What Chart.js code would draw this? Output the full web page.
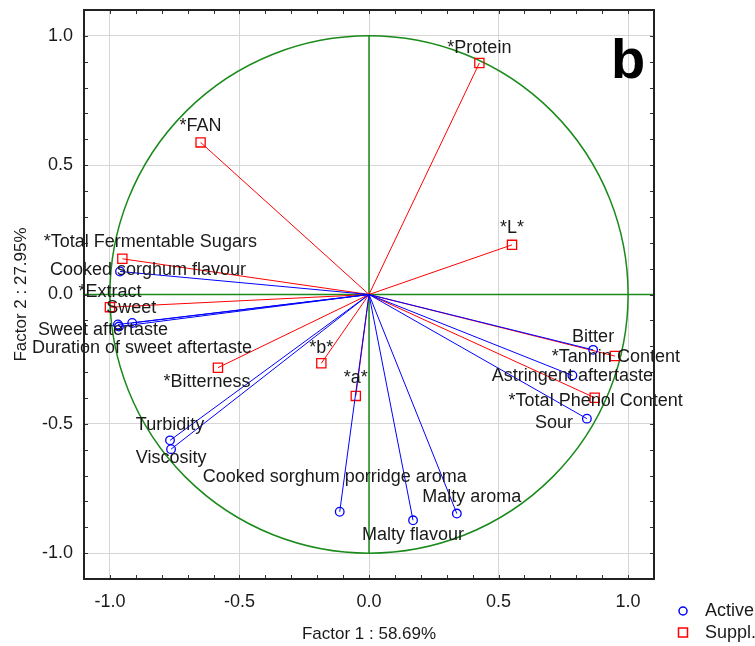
<!DOCTYPE html>
<html>
<head>
<meta charset="utf-8">
<script src="https://cdn.jsdelivr.net/npm/chart.js@4.4.0/dist/chart.umd.min.js"></script>
<style>
  html, body { margin: 0; padding: 0; background: #fff; }
</style>
</head>
<body>
<canvas id="myChart" width="755" height="646"></canvas>
<script>
// active variables (blue circles)
var activeNames = ['Cooked sorghum flavour', 'Sweet', 'Sweet aftertaste', 'Duration of sweet aftertaste',
    'Turbidity', 'Viscosity', 'Cooked sorghum porridge aroma', 'Malty flavour', 'Malty aroma',
    'Bitter', 'Astringent aftertaste', 'Sour'];
var activeX = [-0.961, -0.914, -0.969, -0.965, -0.768, -0.764, -0.113, 0.170, 0.339, 0.865, 0.785, 0.841];
var activeY = [0.089, -0.110, -0.116, -0.124, -0.564, -0.598, -0.840, -0.873, -0.847, -0.214, -0.313, -0.480];

// supplementary variables (red squares)
var supplNames = ['*FAN', '*Protein', '*L*', '*Total Fermentable Sugars', '*Extract', '*Bitterness',
    '*b*', '*a*', '*Tannin Content', '*Total Phenol Content'];
var supplX = [-0.650, 0.426, 0.552, -0.952, -1.000, -0.583, -0.184, -0.051, 0.949, 0.871];
var supplY = [0.588, 0.895, 0.192, 0.138, -0.049, -0.283, -0.266, -0.392, -0.238, -0.399];

var tickValues = [-1.0, -0.5, 0.0, 0.5, 1.0];
var xTitle = 'Factor 1 : 58.69%';
var yTitle = 'Factor 2 : 27.95%';
var legendLabels = ['Active', 'Suppl.'];
var panelLetter = 'b';

// where each label sits relative to its point (px)
var activeLabelOffset = [[28, -1], [-1, -15], [-15, 6], [23, 21], [0, -15], [0, 9], [-5, -35],
    [0, 15], [15, -17], [0, -13], [0, 1], [-33, 4]];
var supplLabelOffset = [[0, -16], [0, -15], [0, -17], [28, -17], [0, -15], [-11, 14], [0, -15],
    [0, -18], [1, 1], [1, 3]];

var FONT = "'Liberation Sans', Arial, sans-serif";
var BLUE = '#0000ff';
var RED = '#ff0000';
var GREEN = '#1a8a1a';
var TEXT = '#1a1a1a';

var datasets = [];
activeNames.forEach(function (name, i) {
    datasets.push({
        label: name,
        data: [{x: 0, y: 0}, {x: activeX[i], y: activeY[i]}],
        showLine: true,
        borderColor: BLUE,
        borderWidth: 1,
        pointStyle: 'circle',
        pointRadius: [0, 4.3],
        pointBorderColor: BLUE,
        pointBackgroundColor: 'rgba(0,0,0,0)',
        pointBorderWidth: 1.3,
        labelOffset: activeLabelOffset[i]
    });
});
supplNames.forEach(function (name, i) {
    datasets.push({
        label: name,
        data: [{x: 0, y: 0}, {x: supplX[i], y: supplY[i]}],
        showLine: true,
        borderColor: RED,
        borderWidth: 1,
        pointStyle: 'rect',
        pointRadius: [0, 6.5],
        pointBorderColor: RED,
        pointBackgroundColor: 'rgba(0,0,0,0)',
        pointBorderWidth: 1.3,
        labelOffset: supplLabelOffset[i]
    });
});

var circlePlugin = {
    id: 'circlePlugin',
    beforeDatasetsDraw: function (chart) {
        var ctx = chart.ctx, xs = chart.scales.x, ys = chart.scales.y, area = chart.chartArea;
        var cx = xs.getPixelForValue(0), cy = ys.getPixelForValue(0);
        ctx.save();
        ctx.strokeStyle = GREEN;
        ctx.lineWidth = 1.5;
        ctx.beginPath();
        ctx.ellipse(cx, cy, xs.getPixelForValue(1) - cx, cy - ys.getPixelForValue(1), 0, 0, Math.PI * 2);
        ctx.stroke();
        ctx.beginPath();
        ctx.moveTo(area.left, cy);
        ctx.lineTo(area.right, cy);
        ctx.moveTo(cx, ys.getPixelForValue(1));
        ctx.lineTo(cx, ys.getPixelForValue(-1));
        ctx.stroke();
        ctx.restore();
    },
    afterDatasetsDraw: function (chart) {
        var ctx = chart.ctx;
        ctx.save();
        ctx.font = '18px ' + FONT;
        ctx.fillStyle = TEXT;
        ctx.textAlign = 'center';
        ctx.textBaseline = 'middle';
        chart.data.datasets.forEach(function (ds, i) {
            var pt = chart.getDatasetMeta(i).data[1];
            ctx.fillText(ds.label, pt.x + ds.labelOffset[0], pt.y + ds.labelOffset[1]);
        });
        ctx.restore();
    },
    afterDraw: function (chart) {
        var ctx = chart.ctx, xs = chart.scales.x, ys = chart.scales.y, a = chart.chartArea;
        ctx.save();
        // small inner ticks every 0.1
        ctx.strokeStyle = '#333';
        ctx.lineWidth = 1;
        ctx.beginPath();
        for (var k = -10; k <= 10; k++) {
            var px = Math.round(xs.getPixelForValue(k / 10)) + 0.5;
            var py = Math.round(ys.getPixelForValue(k / 10)) + 0.5;
            ctx.moveTo(px, a.top); ctx.lineTo(px, a.top + 4);
            ctx.moveTo(px, a.bottom); ctx.lineTo(px, a.bottom - 4);
            ctx.moveTo(a.left, py); ctx.lineTo(a.left + 4, py);
            ctx.moveTo(a.right, py); ctx.lineTo(a.right - 4, py);
        }
        ctx.stroke();
        // frame
        ctx.strokeStyle = '#222';
        ctx.lineWidth = 2;
        ctx.strokeRect(a.left, a.top, a.right - a.left, a.bottom - a.top);

        // legend
        var lx = a.right + 29;
        ctx.lineWidth = 1.5;
        ctx.strokeStyle = BLUE;
        ctx.beginPath();
        ctx.arc(lx, 611, 4, 0, Math.PI * 2);
        ctx.stroke();
        ctx.strokeStyle = RED;
        ctx.strokeRect(lx - 4.5, 628, 9, 9);
        ctx.fillStyle = TEXT;
        ctx.font = '18px ' + FONT;
        ctx.textAlign = 'left';
        ctx.textBaseline = 'middle';
        ctx.fillText(legendLabels[0], lx + 22, 611);
        ctx.fillText(legendLabels[1], lx + 22, 633);

        // panel letter
        ctx.font = 'bold 56px ' + FONT;
        ctx.fillStyle = '#000';
        ctx.textAlign = 'center';
        ctx.textBaseline = 'alphabetic';
        ctx.fillText(panelLetter, a.right - 26, a.top + 68);
        ctx.restore();
    }
};

function axisOptions(title, isX) {
    return {
        type: 'linear',
        min: -1.1,
        max: 1.1,
        afterBuildTicks: function (axis) {
            axis.ticks = tickValues.map(function (v) { return {value: v}; });
        },
        afterFit: function (scale) {
            if (isX) {
                scale.height = 67;
                scale.paddingLeft = 0;
                scale.paddingRight = 0;
            } else {
                scale.width = 84;
                scale.paddingTop = 0;
                scale.paddingBottom = 0;
            }
        },
        ticks: {
            autoSkip: false,
            maxRotation: 0,
            padding: isX ? 12 : 11,
            color: TEXT,
            font: {family: FONT, size: 18},
            callback: function (v) { return Number(v).toFixed(1); }
        },
        grid: {color: '#d6d6d6', lineWidth: 1, drawTicks: false},
        border: {display: false},
        title: {
            display: true,
            text: title,
            color: TEXT,
            font: {family: FONT, size: 17},
            padding: isX ? {top: 0, bottom: 1} : {top: 11, bottom: 0}
        }
    };
}

var chart = new Chart(document.getElementById('myChart'), {
    type: 'scatter',
    data: {datasets: datasets},
    options: {
        responsive: false,
        animation: false,
        events: [],
        layout: {padding: {top: 10, right: 101, left: 0, bottom: 0}},
        plugins: {
            legend: {display: false},
            tooltip: {enabled: false}
        },
        scales: {
            x: axisOptions(xTitle, true),
            y: axisOptions(yTitle, false)
        }
    },
    plugins: [circlePlugin]
});
</script>
</body>
</html>
